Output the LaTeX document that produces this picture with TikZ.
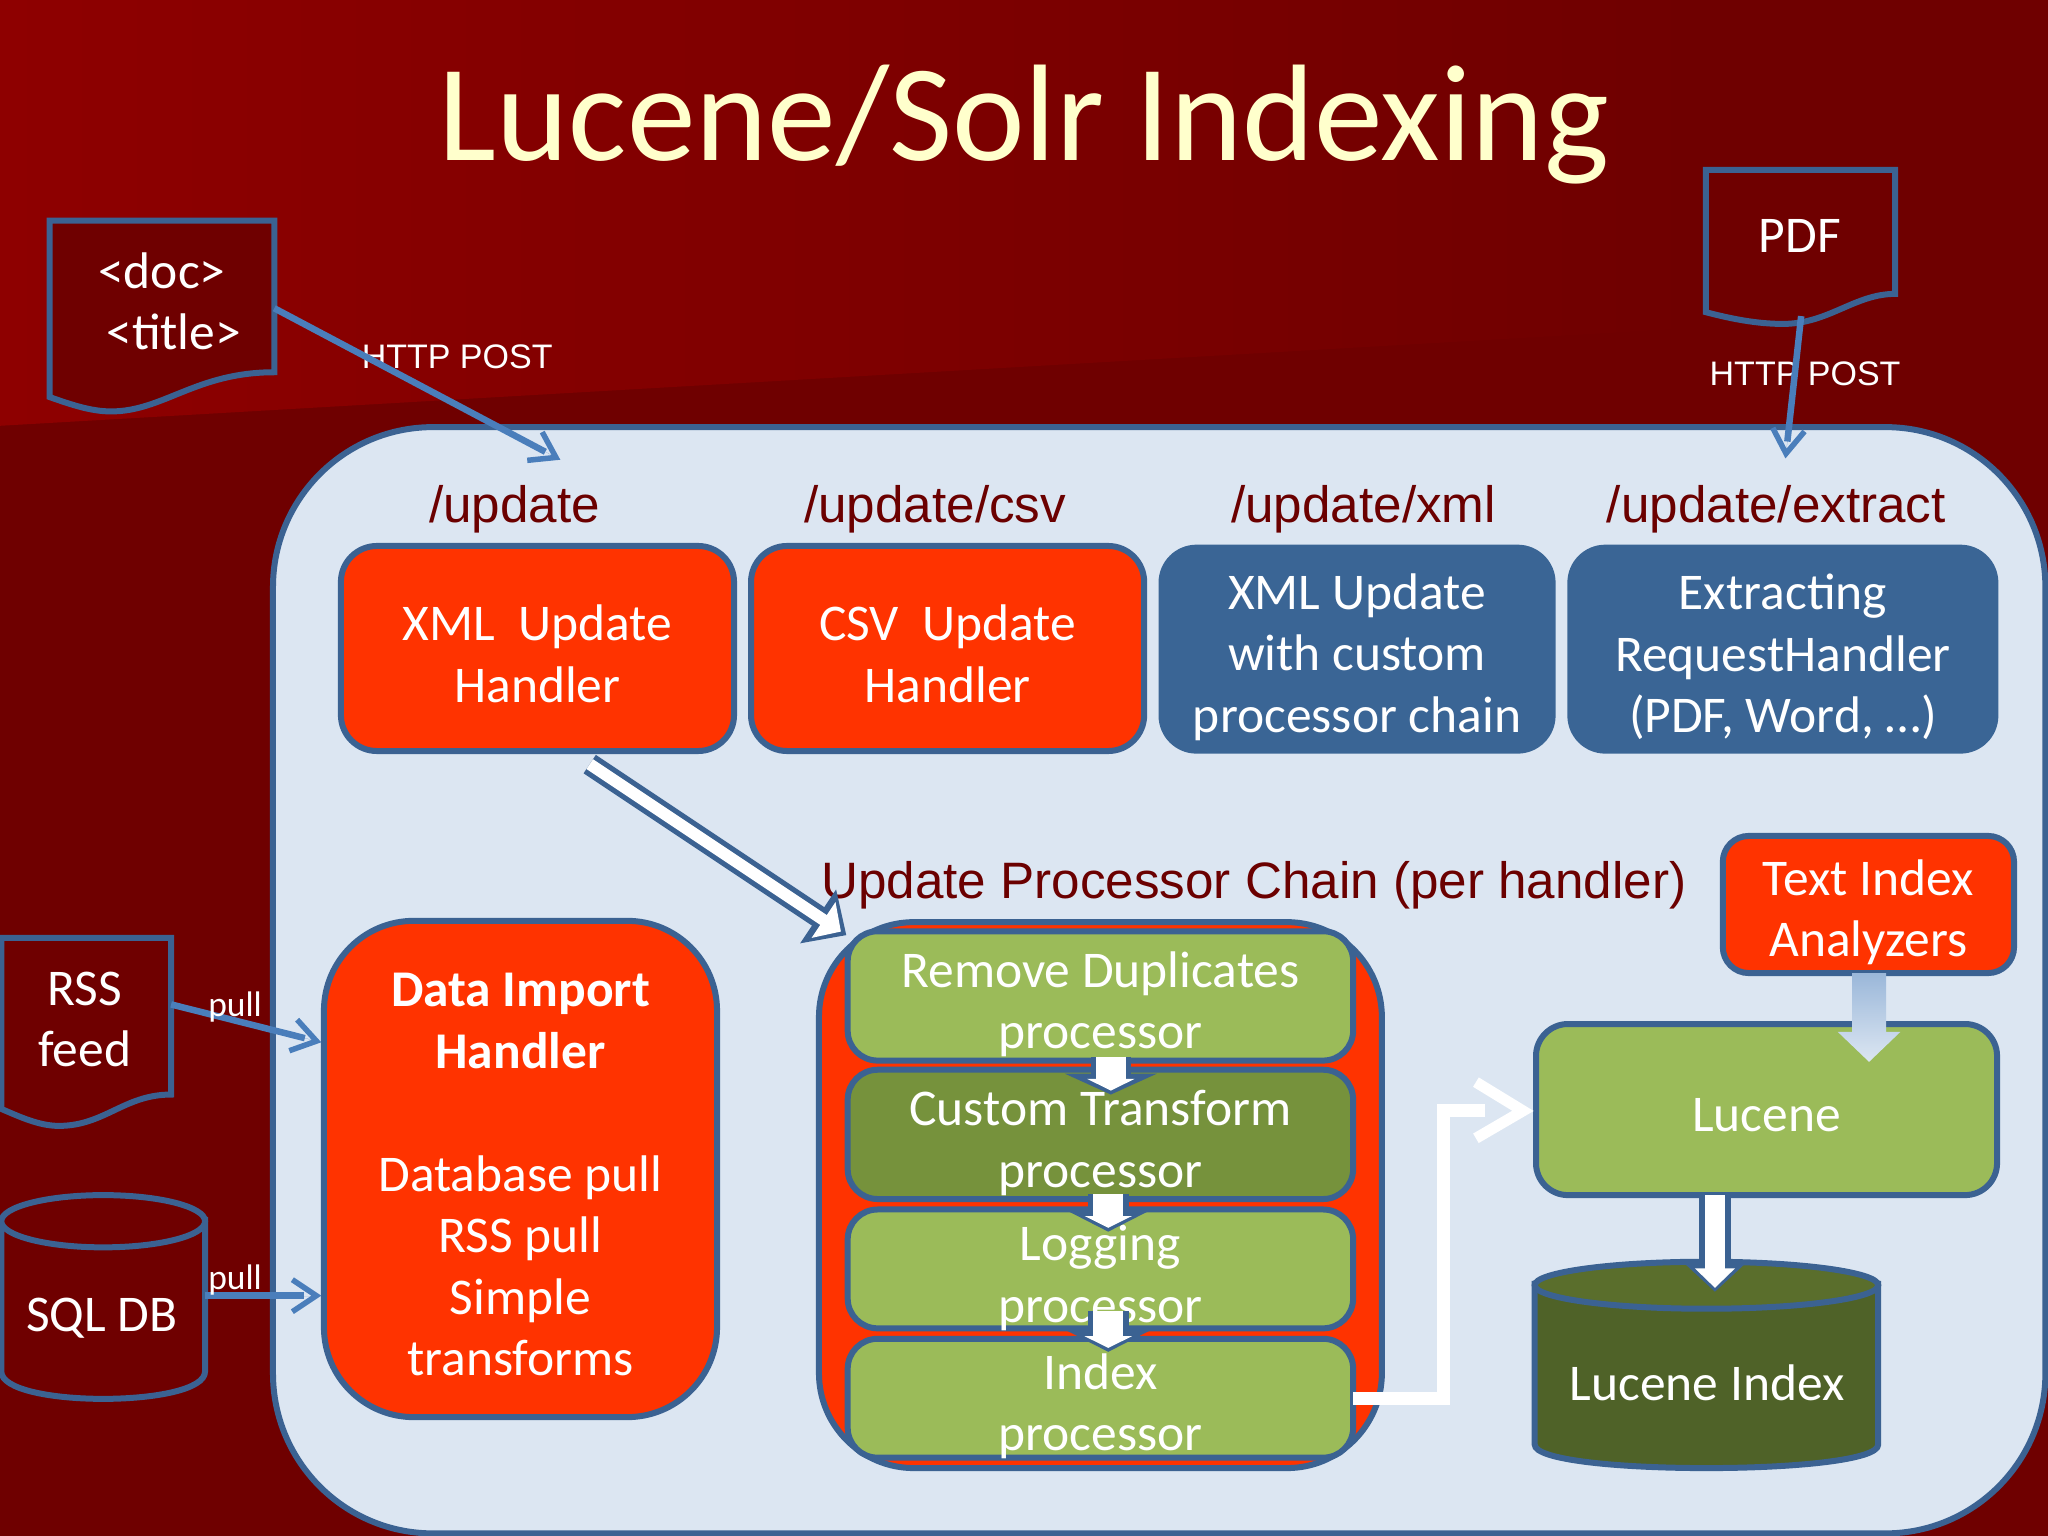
\documentclass[tikz,border=0pt]{standalone}
\usepackage{fontspec}
\setmainfont{Carlito}
\newfontfamily\arialf{Liberation Sans}
\usetikzlibrary{arrows.meta,calc,shadings}
\definecolor{bgdark}{HTML}{6F0000}
\definecolor{bgleft}{HTML}{8E0000}
\definecolor{panel}{HTML}{DCE6F2}
\definecolor{edge}{HTML}{3B6292}
\definecolor{link}{HTML}{4A7EBB}
\definecolor{hot}{HTML}{FF3300}
\definecolor{navy}{HTML}{3A6595}
\definecolor{leaf}{HTML}{9BBB59}
\definecolor{moss}{HTML}{76923C}
\definecolor{olive}{HTML}{4F6228}
\definecolor{olivetop}{HTML}{5A6E2C}
\definecolor{cream}{HTML}{FFFFCC}
\definecolor{wine}{HTML}{6B0000}
\tikzset{
  x=1.30612pt,y=-1.30612pt,
  base/.style={rectangle,inner sep=0pt,outer sep=0pt,line width=6pt,draw=edge},
  hotbox/.style={base,fill=hot,rounded corners=36pt},
  bluebox/.style={base,fill=navy,draw=none,rounded corners=38pt},
  greenbox/.style={base,fill=leaf,rounded corners=30pt},
  mossbox/.style={base,fill=moss,rounded corners=30pt},
  doctext/.style={text=white,align=center,inner sep=0pt,font=\fontsize{51.5}{61.5}\selectfont},
  path label/.style={text=wine,inner sep=0pt,font=\arialf\fontsize{51.2}{60}\selectfont},
  post label/.style={text=white,inner sep=0pt,font=\arialf\fontsize{34}{40}\selectfont},
  pull label/.style={text=white,inner sep=0pt,font=\fontsize{35.5}{40}\selectfont},
  shape line/.style={draw=edge,line width=6pt},
}
% name,x1,y1,x2,y2,style,text; optional: downward shift of the text
\newcommand\rnode[8][4]{\node[#7,minimum width={(#5-#3)*1.30612pt},minimum height={(#6-#4)*1.30612pt}] (#2) at ({(#3+#5)/2},{(#4+#6)/2}) {};
  \node[doctext] (#2t) at ($(#2.center)+(0,#1)$) {#8};}
% from,to,outer shaft,inner shaft,outer head length,outer head width,inner head length,inner head width,inset of the white tip
\newcommand\blockarrow[9]{%
  \draw[edge,line width=#3*1.30612pt,-{Triangle[length=#5*1.30612pt,width=#6*1.30612pt]}] #1 -- #2;
  \draw[white,line width=#4*1.30612pt,shorten >=#9*1.30612pt,-{Triangle[length=#7*1.30612pt,width=#8*1.30612pt]}] #1 -- #2;}
% thin connector: the shaft stops short of the open head
\newcommand\feedarrow[2]{%
  \draw[link,line width=6.5pt,shorten >=17pt] (#1) -- (#2);
  \draw[link,line width=0.01pt,-{Straight Barb[length=24pt,width=32pt,line width=5.5pt]}] ($(#2)!26pt!(#1)$) -- (#2);}
\begin{document}
\begin{tikzpicture}
\useasboundingbox (0,0) rectangle (1568,1176);
\fill[bgdark] (0,0) rectangle (1568,1176);
\shade[left color=bgleft,right color=bgdark] (0,0) -- (1300,0) -- (1300,251) -- (0,326) -- cycle;
% title
\node[text=cream,inner sep=0pt,font=\fontsize{137.5}{150}\selectfont] (title) at (784,95) {Lucene/Solr Indexing};
% panel
\rnode{panelbox}{209}{327}{1566}{1174}{base,fill=panel,rounded corners=160pt}{}
% document shapes
\draw[shape line,fill=bgdark,miter limit=10] (38,169) -- (210,169) -- (210,285) .. controls (150,285) and (125,315) .. (85,315) .. controls (70,315) and (55,310) .. (38,304) -- cycle;
\node[doctext] (doca) at (124,207) {<doc>};
\node[doctext] (docb) at (133,254) {<title>};
\coordinate (docout) at (210,236);
\draw[shape line,fill=bgdark] (1306,130) -- (1451,130) -- (1451,225) .. controls (1420,225) and (1400,248) .. (1365,248) .. controls (1345,248) and (1325,244) .. (1306,239) -- cycle;
\node[doctext] (pdf) at (1378,181) {PDF};
\coordinate (pdfout) at (1379,242);
\draw[shape line,fill=bgdark] (1,718) -- (131,718) -- (131,838) .. controls (95,838) and (80,862) .. (45,862) .. controls (30,862) and (15,855) .. (1,849) -- cycle;
\node[doctext] (rssa) at (65,757) {RSS};
\node[doctext] (rssb) at (65,803) {feed};
\coordinate (rssout) at (131,769);
% SQL DB
\draw[shape line,fill=bgdark] (1,934) -- (1,1050) .. controls (1,1078) and (157,1078) .. (157,1050) -- (157,934) -- cycle;
\draw[shape line,fill=bgdark] (79,935) ellipse [x radius=78,y radius=20];
\node[doctext] (sql) at (78,1009) {SQL DB};
\coordinate (sqlout) at (157,992);
% path labels
\node[path label] (l1) at (394,390) {/update};
\node[path label] (l2) at (716,390) {/update/csv};
\node[path label] (l3) at (1044,390) {/update/xml};
\node[path label] (l4) at (1360,390) {/update/extract};
\node[path label] (l5) at (960,678) {Update Processor Chain (per handler)};
% handlers
\rnode{xml}{261}{418}{562}{575}{hotbox}{XML\ \ Update\\Handler}
\rnode{csv}{575}{418}{876}{575}{hotbox}{CSV\ \ Update\\Handler}
\rnode[6]{xmlc}{887}{417}{1191}{577}{bluebox}{XML Update\\with custom\\processor chain}
\rnode[6]{ext}{1200}{417}{1530}{577}{bluebox}{Extracting\\RequestHandler\\(PDF, Word, …)}
\rnode[4.5]{dih}{248}{705}{549}{1085}{hotbox,rounded corners=90pt}{\textbf{Data Import}\\\textbf{Handler}\\[61.5pt]Database pull\\RSS pull\\Simple\\transforms}
% chain
\rnode{chain}{627}{706}{1058}{1124}{base,fill=hot,rounded corners=95pt}{}
\rnode[6.5]{p1}{649}{713}{1036}{812}{greenbox}{Remove Duplicates\\processor}
\rnode[6.5]{p2}{649}{819}{1036}{918}{mossbox}{Custom Transform\\processor}
\rnode[7]{p3}{649}{926}{1036}{1017}{greenbox}{Logging\\processor}
\rnode[6]{p4}{649}{1025}{1036}{1116}{greenbox}{Index\\processor}
% Lucene
\rnode[6]{tia}{1319}{640}{1542}{745}{hotbox,rounded corners=26pt}{Text Index\\Analyzers}
\rnode{lucene}{1176}{784}{1529}{915}{greenbox,rounded corners=32pt}{Lucene}
\draw[shape line,fill=olive] (1175,983) -- (1175,1106) .. controls (1175,1130) and (1438,1130) .. (1438,1106) -- (1438,983) -- cycle;
\draw[shape line,fill=olivetop] (1306.5,984) ellipse [x radius=131.5,y radius=18];
\node[doctext] (lidx) at (1307,1059) {Lucene Index};
% chain block arrows
\blockarrow{($(p1.south)+(8,-3)$)}{($(p2.north)+(8,19)$)}{31}{23}{16}{70}{9}{36}{3}
\blockarrow{($(p2.south)+(6,-4)$)}{($(p3.north)+(6,17)$)}{31}{23}{16}{62}{9}{36}{3}
\blockarrow{($(p3.south)+(6,-13)$)}{($(p4.north)+(6,10)$)}{31}{23}{16}{62}{9}{36}{3}
% handler to chain
\blockarrow{($(xml.south)+(40,10)$)}{($(chain.north west)+(21,10)$)}{17}{9}{26}{48}{16}{32}{5}
% analyzers to lucene
\shade[top color=link!45!panel,bottom color=panel] (1418,745) -- (1444,745) -- (1444,790) -- (1455,790) -- (1431,813) -- (1407,790) -- (1418,790) -- cycle;
% lucene to index
\blockarrow{($(lucene.south)+(-39.5,0)$)}{(1313,989)}{24}{15}{21}{44}{15}{30}{3}
% elbow
\coordinate (elbowend) at (1137,850);
\draw[white,line width=13pt] (p4.east) -- (1105,1070.5) |- (elbowend);
\draw[white,line width=11pt,miter limit=10] ($(lucene.west)+(-46,-21)$) -- ($(lucene.west)+(-10,1)$) -- ($(lucene.west)+(-46,22)$);
% post labels and feeds
\node[post label] (post1) at (350,273) {HTTP POST};
\node[post label] (post2) at (1382,286) {HTTP POST};
\coordinate (updin) at (429,352);
\coordinate (extin) at (1367,351);
\feedarrow{docout}{updin}
\feedarrow{pdfout}{extin}
\coordinate (rssin) at (246,798);
\coordinate (sqlin) at (246,992);
\feedarrow{rssout}{rssin}
\feedarrow{sqlout}{sqlin}
\node[pull label] (pull1) at (180,771) {pull};
\node[pull label] (pull2) at (180,980) {pull};
\end{tikzpicture}
\end{document}
